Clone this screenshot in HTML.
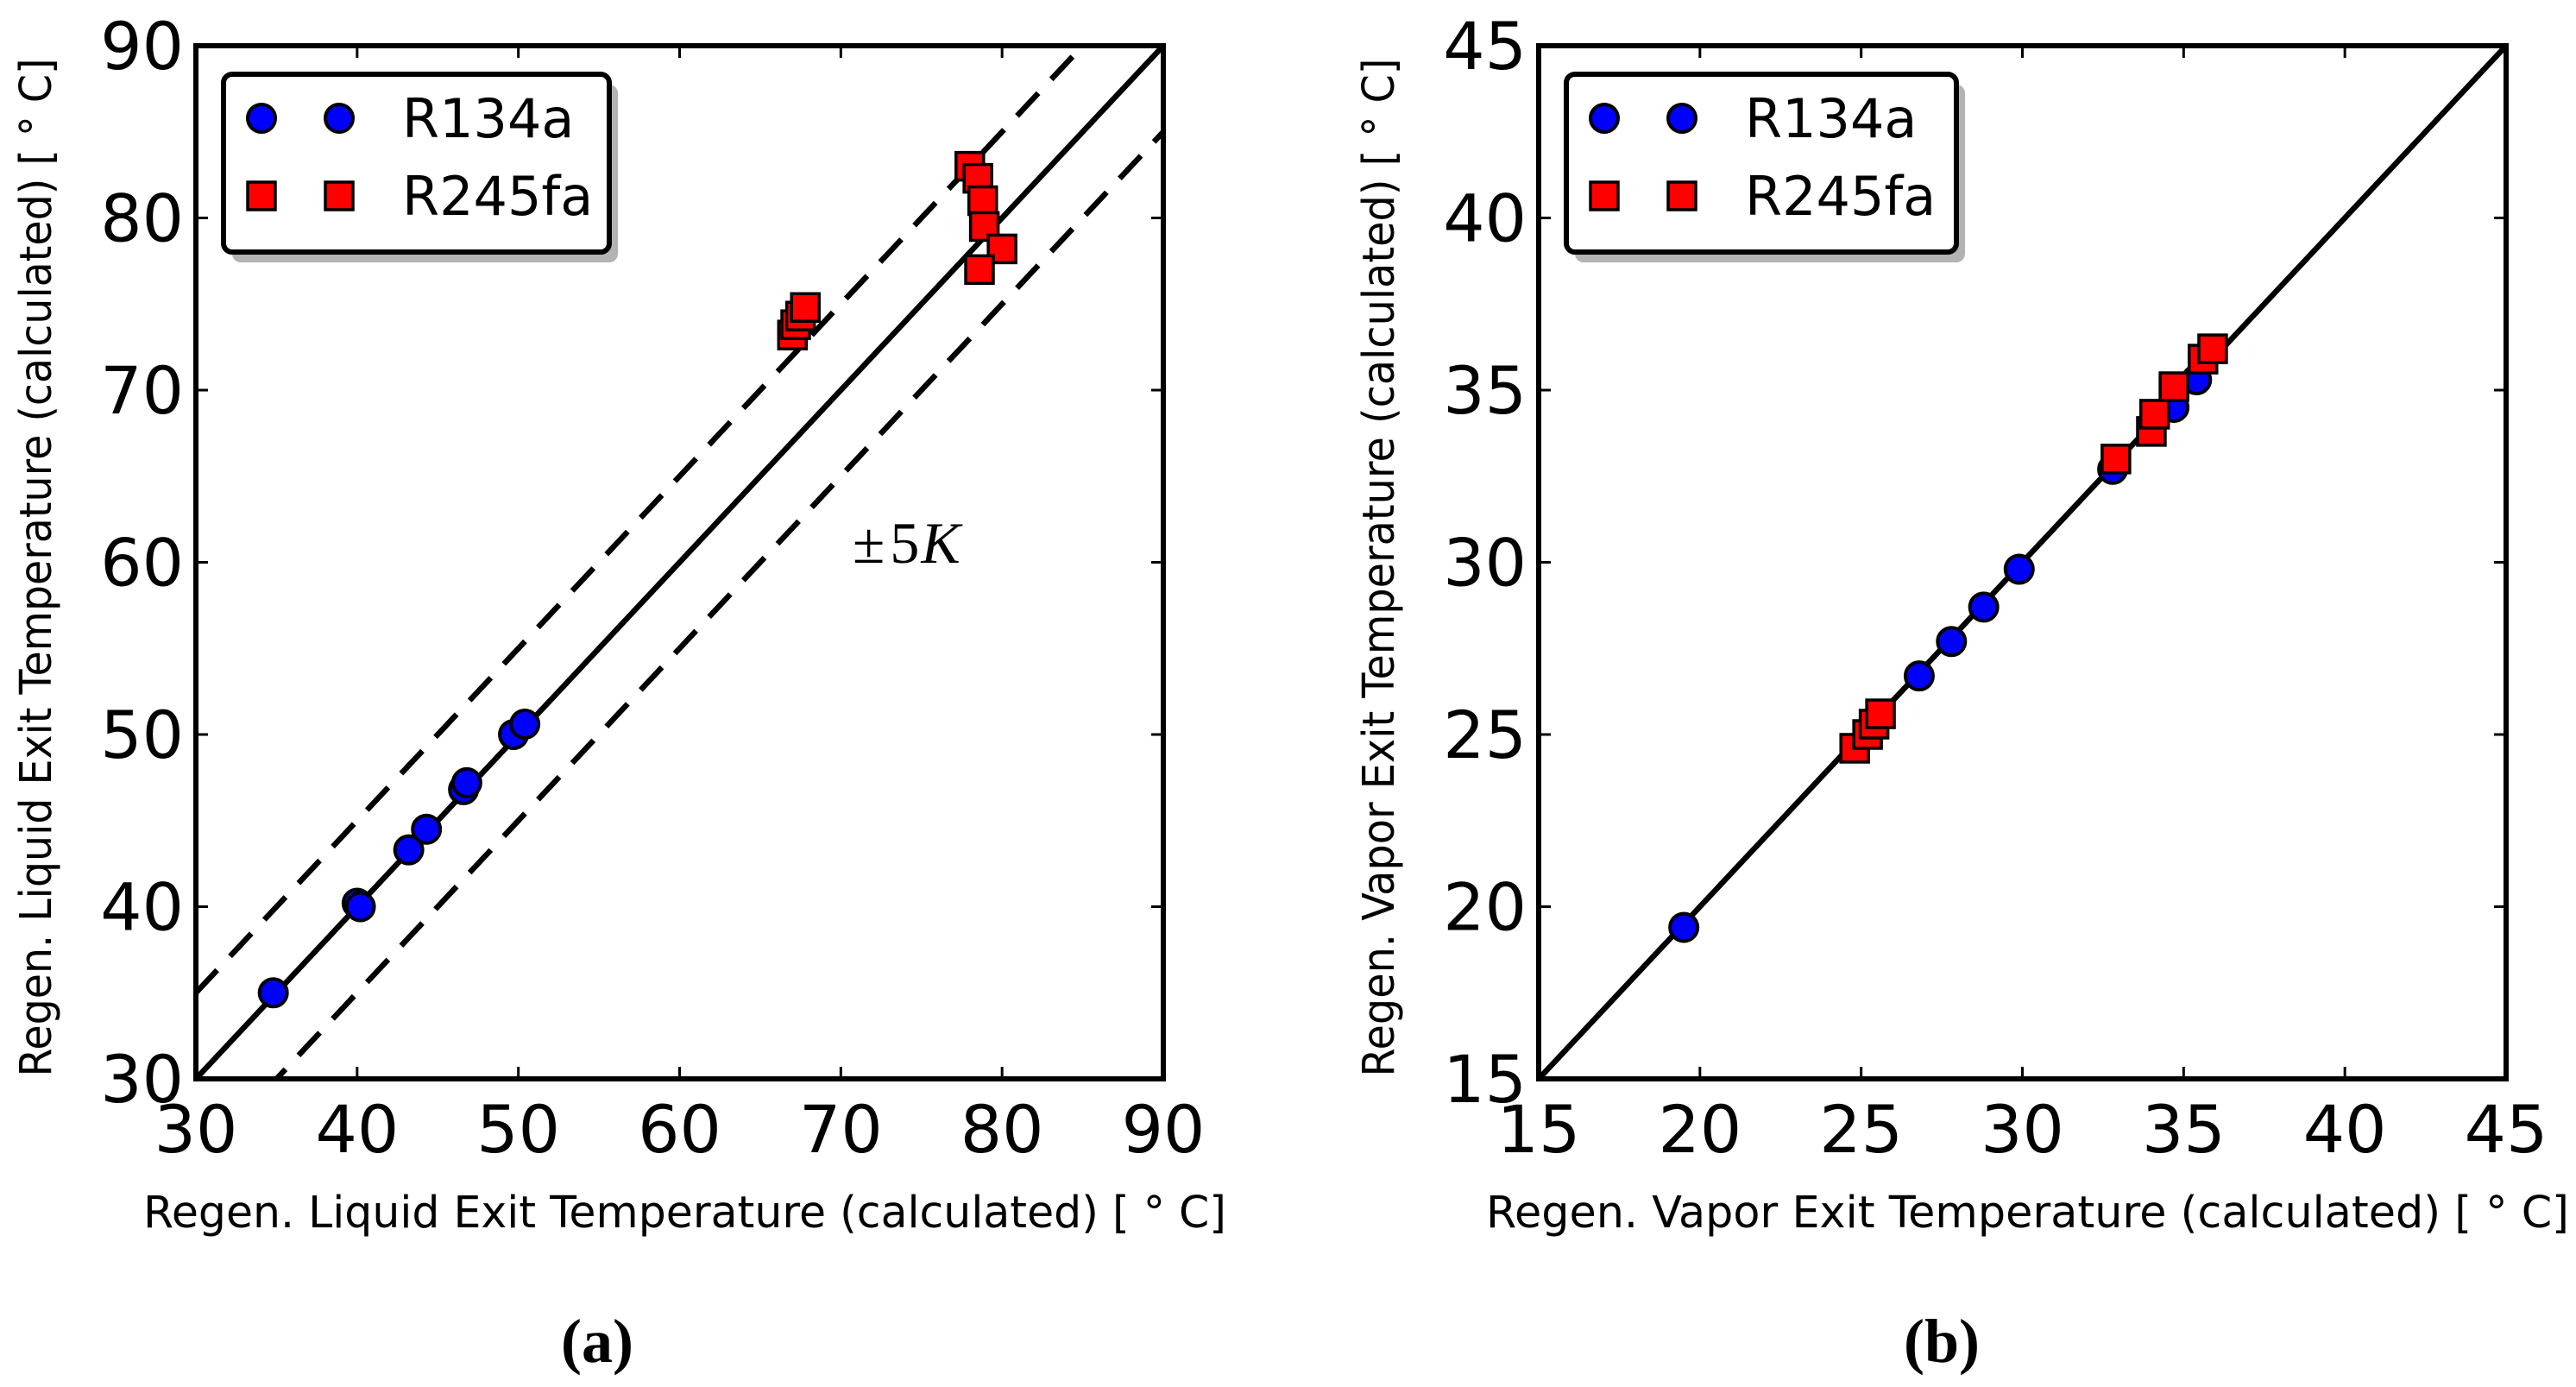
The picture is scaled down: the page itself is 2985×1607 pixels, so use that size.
<!DOCTYPE html>
<html><head><meta charset="utf-8"><style>
html,body{margin:0;padding:0;background:#fff;}
svg{display:block;font-family:"DejaVu Sans","Liberation Sans",sans-serif;}
</style></head><body>
<svg id="fig" width="2985" height="1607" viewBox="0 0 2985 1607" xmlns="http://www.w3.org/2000/svg"></svg>
<script>
// Panel (a) data
const aTicks = [30,40,50,60,70,80,90];
const aR134x = [34.8,40.0,40.2,43.2,44.3,46.6,46.8,49.7,50.4];
const aR134y = [35.0,40.2,40.0,43.3,44.5,46.8,47.2,50.0,50.6];
const aR245x = [67.0,67.2,67.5,67.8,78.0,78.5,78.8,78.9,80.0,78.6];
const aR245y = [73.2,73.8,74.3,74.8,83.0,82.3,81.0,79.5,78.2,77.0];
// Panel (b) data
const bTicks = [15,20,25,30,35,40,45];
const bR134x = [19.5,26.8,27.8,28.8,29.9,32.8,34.7,35.4];
const bR134y = [19.4,26.7,27.7,28.7,29.8,32.7,34.5,35.3];
const bR245x = [24.8,25.2,25.4,25.6,32.9,34.0,34.1,34.7,35.6,35.9];
const bR245y = [24.6,25.0,25.3,25.6,33.0,33.8,34.3,35.1,35.9,36.2];

const NS="http://www.w3.org/2000/svg";
const svg=document.getElementById('fig');
function mk(tag,attrs,parent){const e=document.createElementNS(NS,tag);for(const k in attrs)e.setAttribute(k,attrs[k]);(parent||svg).appendChild(e);return e;}

function panel(opt){
  const g=mk('g',{});
  
  
  const L=opt.left,R=opt.right,T=53,B=1250;
  const lo=opt.ticks[0],hi=opt.ticks[opt.ticks.length-1];
  const sx=v=>L+(v-lo)/(hi-lo)*(R-L);
  const sy=v=>B-(v-lo)/(hi-lo)*(B-T);
  const clip=mk('clipPath',{id:'clip'+opt.id},g);
  mk('rect',{x:L,y:T,width:R-L,height:B-T},clip);
  const pg=mk('g',{'clip-path':'url(#clip'+opt.id+')'},g);
  const id=mk('line',{x1:sx(lo),y1:sy(lo),x2:sx(hi),y2:sy(hi),stroke:'#000','stroke-width':6.5},pg);
  
  
  if(opt.band){
    [opt.band,-opt.band].forEach((d,i)=>{
      const l=mk('line',{x1:sx(lo),y1:sy(lo+d),x2:sx(hi),y2:sy(hi+d),stroke:'#000','stroke-width':6.5,'stroke-dasharray':'36 22'},pg);
      
      
    });
  }
  opt.cx.forEach((v,i)=>{
    const c=mk('circle',{cx:sx(v),cy:sy(opt.cy[i]),r:16,fill:'#0000ff',stroke:'#000','stroke-width':4},pg);
    
    
  });
  opt.qx.forEach((v,i)=>{
    const s=mk('rect',{x:sx(v)-16,y:sy(opt.qy[i])-16,width:32,height:32,fill:'#ff0000',stroke:'#000','stroke-width':3.5},pg);
    
    
  });
  const fr=mk('rect',{x:L,y:T,width:R-L,height:B-T,fill:'none',stroke:'#000','stroke-width':6},g);
  
  
  opt.ticks.forEach(t=>{
    if(t!==lo&&t!==hi){
      mk('line',{x1:sx(t),y1:B,x2:sx(t),y2:B-14,stroke:'#000','stroke-width':3},g);
      mk('line',{x1:sx(t),y1:T,x2:sx(t),y2:T+14,stroke:'#000','stroke-width':3},g);
      mk('line',{x1:L,y1:sy(t),x2:L+14,y2:sy(t),stroke:'#000','stroke-width':3},g);
      mk('line',{x1:R,y1:sy(t),x2:R-14,y2:sy(t),stroke:'#000','stroke-width':3},g);
    }
    const xt=mk('text',{x:sx(t),y:1335,'font-size':76,'text-anchor':'middle'},g);
    xt.textContent=t;
    
    
    const yt=mk('text',{x:L-14,y:sy(t)+27,'font-size':76,'text-anchor':'end'},g);
    yt.textContent=t;
    
    
  });
  const xtl=mk('text',{x:(L+R)/2+6,y:1422,'font-size':51,'text-anchor':'middle',textLength:opt.xtLen,lengthAdjust:'spacingAndGlyphs'},g);
  xtl.textContent=opt.title;
  
  
  const ytl=mk('text',{x:0,y:0,'font-size':51,'text-anchor':'middle',textLength:1180,lengthAdjust:'spacingAndGlyphs',transform:'translate('+(L-168)+','+((T+B)/2+6)+') rotate(-90)'},g);
  ytl.textContent=opt.title;
  
  
  const lg=mk('g',{},g);
  
  
  const lx=L+32,ly=86,lw=opt.lw,lh=206;
  mk('rect',{x:lx+10,y:ly+12,width:lw,height:lh,rx:10,fill:'#b3b3b3'},lg);
  mk('rect',{x:lx,y:ly,width:lw,height:lh,rx:10,fill:'#fff',stroke:'#000','stroke-width':6},lg);
  [[0,'R134a'],[1,'R245fa']].forEach(([i,txt])=>{
    const yy=ly+51+i*90;
    const e=mk('g',{},lg);
    
    
    [lx+44,lx+134].forEach(mx=>{
      if(i===0) mk('circle',{cx:mx,cy:yy,r:16,fill:'#0000ff',stroke:'#000','stroke-width':4},e);
      else mk('rect',{x:mx-16,y:yy-16,width:32,height:32,fill:'#ff0000',stroke:'#000','stroke-width':3.5},e);
    });
    const tx=mk('text',{x:lx+207,y:yy+22,'font-size':62},e);
    tx.textContent=txt;
  });
  const cap=mk('text',{x:opt.capX,y:1578,'font-size':72,'font-weight':'bold','text-anchor':'middle','font-family':'"Liberation Serif","DejaVu Serif",serif'},g);
  cap.textContent=opt.cap;
  
  
  return {sx,sy,g};
}

const pa=panel({id:'a',name:'chart-a-liquid',left:227,right:1348,ticks:aTicks,band:5,cx:aR134x,cy:aR134y,qx:aR245x,qy:aR245y,title:'Regen. Liquid Exit Temperature (calculated) [ \u00B0 C]',xtLen:1255,lw:447,cap:'(a)',capX:692});
const pm=mk('text',{x:988,y:652,'font-size':68,'font-family':'"Liberation Serif","DejaVu Serif",serif'},pa.g);
pm.innerHTML='\u00B1<tspan dx="6">5</tspan><tspan font-style="italic" dx="2">K</tspan>';



panel({id:'b',name:'chart-b-vapor',left:1783,right:2904,ticks:bTicks,band:0,cx:bR134x,cy:bR134y,qx:bR245x,qy:bR245y,title:'Regen. Vapor Exit Temperature (calculated) [ \u00B0 C]',xtLen:1255,lw:452,cap:'(b)',capX:2250});
</script>
</body></html>
